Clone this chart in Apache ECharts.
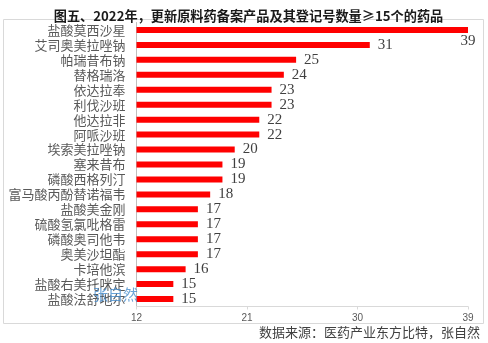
<!DOCTYPE html>
<html><head><meta charset="utf-8">
<script src="https://cdn.jsdelivr.net/npm/echarts@6/dist/echarts.min.js"></script>
<style>html,body{margin:0;padding:0;background:#fff}#c{width:488px;height:343px}</style>
</head><body><div id="c"></div>
<script>
const categories = ["盐酸莫西沙星","艾司奥美拉唑钠","帕瑞昔布钠","替格瑞洛","依达拉奉","利伐沙班","他达拉非","阿哌沙班","埃索美拉唑钠","塞来昔布","磷酸西格列汀","富马酸丙酚替诺福韦","盐酸美金刚","硫酸氢氯吡格雷","磷酸奥司他韦","奥美沙坦酯","卡培他滨","盐酸右美托咪定","盐酸法舒地尔"];
const values = [39,31,25,24,23,23,22,22,20,19,19,18,17,17,17,17,16,15,15];
const xTicks = {min: 12, max: 39, interval: 9};
const titleText = "图五、2022年，更新原料药备案产品及其登记号数量≥15个的药品";
const sourceText = "数据来源：医药产业东方比特，张自然";
const watermark = "张自然";

const chart = echarts.init(document.getElementById('c'));
const seriesData = values.map((v, i) => {
  if (i === 0) {
    return {value: v, label: {position: ['100%', '100%'], align: 'center', verticalAlign: 'top', offset: [0, 1]}};
  }
  return v;
});
chart.setOption({
  animation: false,
  title: {text: titleText, left: 243.5, top: 4, textAlign: 'center',
    textStyle: {fontFamily: 'Noto Sans CJK SC', fontSize: 13.2, fontWeight: 'bold', color: '#1a1a1a'}},
  grid: {left: 136.5, right: 20, top: 22.5, height: 284, containLabel: false},
  xAxis: {type: 'value', min: xTicks.min, max: xTicks.max, interval: xTicks.interval,
    axisLine: {show: true, lineStyle: {color: '#d9d9d9'}},
    axisTick: {show: true, length: 3, lineStyle: {color: '#d9d9d9'}},
    splitLine: {show: false},
    axisLabel: {color: '#595959', fontSize: 10, margin: 7, fontFamily: 'Liberation Sans'}},
  yAxis: {type: 'category', data: categories, inverse: true,
    axisLine: {show: true, lineStyle: {color: '#bfbfbf'}},
    axisTick: {show: false},
    axisLabel: {interval: 0, color: '#595959', fontSize: 13, margin: 11, fontFamily: 'Noto Sans CJK SC'}},
  series: [{type: 'bar', data: seriesData, barWidth: 6, itemStyle: {color: '#ff0000'},
    label: {show: true, position: 'right', distance: 8, color: '#404040', fontSize: 15, fontFamily: 'Liberation Serif'}}],
  graphic: [
    {type: 'rect', shape: {x: 3.5, y: 19.5, width: 480, height: 304}, style: {fill: 'none', stroke: '#d9d9d9', lineWidth: 1}, z: -1},
    {type: 'text', left: 93, top: 287, style: {text: watermark, fontSize: 15, fill: 'rgba(70,140,205,0.8)', fontFamily: 'Noto Sans CJK SC'}, z: 100},
    {type: 'text', right: 8, top: 326, style: {text: sourceText, fontSize: 13, fill: '#404040', fontFamily: 'Noto Sans CJK SC'}}
  ]
});
</script></body></html>
